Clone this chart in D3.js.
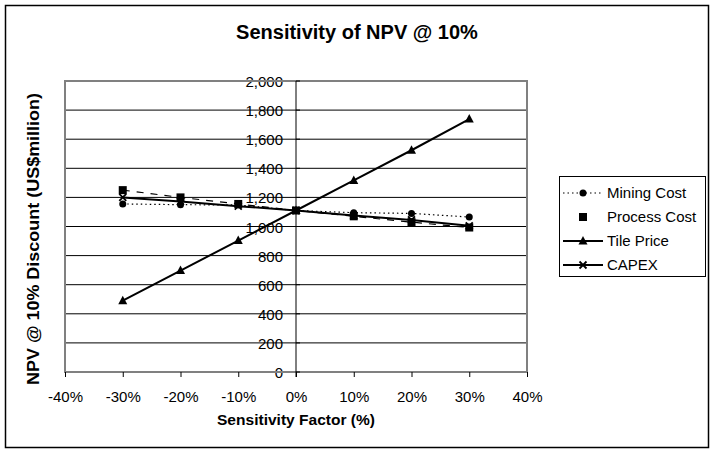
<!DOCTYPE html>
<html><head><meta charset="utf-8">
<script src="https://cdn.jsdelivr.net/npm/d3@7"></script>
<style>body{margin:0;background:#fff}svg{display:block}text{font-family:"Liberation Sans",Arial,sans-serif}</style>
</head><body><svg id="c" width="715" height="454"></svg>
<script>
const factors = [-30, -20, -10, 0, 10, 20, 30];
const miningCost = [1155, 1150, 1148, 1110, 1095, 1090, 1065];
const processCost = [1250, 1200, 1155, 1110, 1070, 1030, 993];
const tilePrice = [490, 697, 903, 1110, 1317, 1524, 1738];
const capex = [1200, 1172, 1140, 1110, 1075, 1045, 1005];
const xTicks = [-40, -30, -20, -10, 0, 10, 20, 30, 40];
const yTicks = [0, 200, 400, 600, 800, 1000, 1200, 1400, 1600, 1800, 2000];
const seriesNames = ["Mining Cost", "Process Cost", "Tile Price", "CAPEX"];

const svg = d3.select("#c");
const L = 65, R = 527, T = 81, B = 372;
const x = d3.scaleLinear().domain([-40, 40]).range([L, R]);
const y = d3.scaleLinear().domain([0, 2000]).range([B, T]);
const fmt = d3.format(",");

svg.append("rect").attr("x", 5.5).attr("y", 5.5).attr("width", 703).attr("height", 442)
  .attr("fill", "#fff").attr("stroke", "#000").attr("stroke-width", 1.5);

svg.append("text").attr("x", 357).attr("y", 39).attr("text-anchor", "middle")
  .attr("font-size", 20).attr("font-weight", "bold").text("Sensitivity of NPV @ 10%");

// y tick labels (under gridlines)
svg.append("g").selectAll("text").data(yTicks).join("text")
  .attr("x", x(0) - 13).attr("y", d => y(d) + 6).attr("text-anchor", "end")
  .attr("font-size", 15).attr("fill", "#000").text(d => fmt(d));

// gridlines
svg.append("g").selectAll("line").data(yTicks.filter(d => d > 0 && d < 2000)).join("line")
  .attr("x1", L).attr("x2", R).attr("y1", d => y(d)).attr("y2", d => y(d))
  .attr("stroke", "#000").attr("stroke-width", 1);

// plot border
svg.append("rect").attr("x", L).attr("y", T).attr("width", R - L).attr("height", B - T)
  .attr("fill", "none").attr("stroke", "#808080").attr("stroke-width", 2);

// x axis ticks
const xa = d3.axisBottom(x).tickValues(xTicks).tickSize(5).tickFormat(d => d + "%");
const gx = svg.append("g").attr("transform", `translate(0,${B})`).call(xa);
gx.select(".domain").remove();
gx.selectAll("line").attr("stroke", "#000");
gx.selectAll("text").attr("font-size", 15).attr("y", 30).attr("dy", null).attr("fill", "#000")
  .attr("font-family", "Liberation Sans, Arial, sans-serif");

// y axis line at x=0
svg.append("line").attr("x1", x(0)).attr("x2", x(0)).attr("y1", T).attr("y2", B + 5)
  .attr("stroke", "#000").attr("stroke-width", 1);
svg.append("g").selectAll("line").data(yTicks).join("line")
  .attr("x1", x(0)).attr("x2", x(0) + 4).attr("y1", d => y(d)).attr("y2", d => y(d))
  .attr("stroke", "#000");

// axis titles
svg.append("text").attr("x", 296).attr("y", 425).attr("text-anchor", "middle")
  .attr("font-size", 15.5).attr("font-weight", "bold")
  .attr("textLength", 158).attr("lengthAdjust", "spacingAndGlyphs").text("Sensitivity Factor (%)");
svg.append("text").attr("transform", "translate(39,239) rotate(-90)").attr("text-anchor", "middle")
  .attr("font-size", 16).attr("font-weight", "bold")
  .attr("textLength", 292).attr("lengthAdjust", "spacingAndGlyphs").text("NPV @ 10% Discount (US$million)");

const data = [miningCost, processCost, tilePrice, capex];
const styles = [
  {dash: "1.5,3", w: 1.2, m: "diamond"},
  {dash: "7,7", w: 1.2, m: "square"},
  {dash: null, w: 2, m: "triangle"},
  {dash: null, w: 2, m: "cross"}
];
const line = d3.line().x((d, i) => x(factors[i])).y(d => y(d));

function marker(g, type, cx, cy) {
  if (type === "diamond") g.append("circle").attr("cx", cx).attr("cy", cy).attr("r", 3.5).attr("fill", "#000");
  else if (type === "square") g.append("rect").attr("x", cx - 4).attr("y", cy - 4).attr("width", 8).attr("height", 8).attr("fill", "#000");
  else if (type === "triangle") g.append("path").attr("d", `M${cx},${cy - 5}L${cx + 4.5},${cy + 3.5}L${cx - 4.5},${cy + 3.5}Z`).attr("fill", "#000");
  else g.append("path").attr("d", `M${cx - 3.5},${cy - 3.5}L${cx + 3.5},${cy + 3.5}M${cx + 3.5},${cy - 3.5}L${cx - 3.5},${cy + 3.5}`).attr("stroke", "#000").attr("stroke-width", 1.8);
}

data.forEach((vals, k) => {
  const g = svg.append("g");
  g.append("path").attr("d", line(vals)).attr("fill", "none").attr("stroke", "#000")
    .attr("stroke-width", styles[k].w).attr("stroke-dasharray", styles[k].dash);
  vals.forEach((v, i) => marker(g, styles[k].m, x(factors[i]), y(v)));
});

// legend
const lg = svg.append("g");
lg.append("rect").attr("x", 559.5).attr("y", 176.5).attr("width", 146).attr("height", 100)
  .attr("fill", "#fff").attr("stroke", "#000").attr("stroke-width", 1);
seriesNames.forEach((n, k) => {
  const cy = 193 + k * 24;
  if (k !== 1) lg.append("line").attr("x1", 563).attr("x2", 603).attr("y1", cy).attr("y2", cy)
    .attr("stroke", "#000").attr("stroke-width", styles[k].w).attr("stroke-dasharray", styles[k].dash);
  marker(lg, styles[k].m, 583, cy);
  lg.append("text").attr("x", 607).attr("y", cy + 5).attr("font-size", 15).text(n);
});
</script></body></html>
